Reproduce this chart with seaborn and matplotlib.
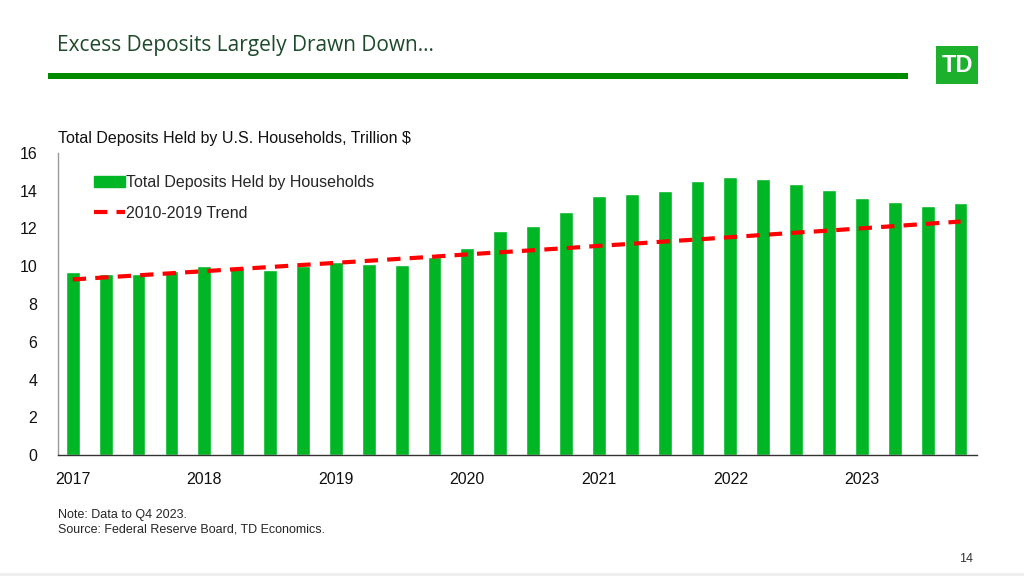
import numpy as np
import pandas as pd
import matplotlib
matplotlib.use("Agg")
import matplotlib.pyplot as plt
import seaborn as sns
from matplotlib.patches import Rectangle, Patch
from matplotlib.lines import Line2D

# quarterly data, 2017 Q1 .. 2023 Q4 (trillion $)
quarters = [f"{y}Q{q}" for y in range(2017, 2024) for q in range(1, 5)]
deposits = [9.70, 9.60, 9.60, 9.75, 10.03, 9.96, 9.82, 10.01,
            10.22, 10.10, 10.08, 10.50, 10.95, 11.87, 12.13, 12.86,
            13.72, 13.81, 13.99, 14.50, 14.75, 14.62, 14.36, 14.02,
            13.62, 13.39, 13.19, 13.35]
trend = [9.30, 9.41, 9.52, 9.63, 9.74, 9.85, 9.96, 10.07,
         10.18, 10.29, 10.40, 10.51, 10.63, 10.74, 10.85, 10.96,
         11.08, 11.19, 11.31, 11.42, 11.54, 11.66, 11.78, 11.89,
         12.01, 12.13, 12.25, 12.37]
year_labels = ["2017", "2018", "2019", "2020", "2021", "2022", "2023"]

df = pd.DataFrame({"quarter": quarters, "deposits": deposits,
                   "trend": trend, "pos": np.arange(len(quarters))})

sns.set_style("white")
plt.rcParams["font.family"] = ["Liberation Sans", "DejaVu Sans"]

bar_green = "#00b624"
trend_red = "#ff0000"

fig = plt.figure(figsize=(10.24, 5.76), dpi=100)
ax = fig.add_axes([58 / 1024, 1 - 455 / 576, (977 - 58) / 1024, (455 - 153) / 576])

sns.barplot(data=df, x="quarter", y="deposits", color=bar_green,
            saturation=1, width=0.42, ax=ax)
sns.lineplot(data=df, x="pos", y="trend", color=trend_red, lw=3,
             ax=ax, dashes=False, linestyle=(0, (3.2, 2.2)))

ax.set_xlim(-0.45, 27.5)
ax.set_ylim(0, 16)
ax.set_yticks(range(0, 17, 2))
ax.set_xticks(range(0, 28, 4))
ax.set_xticklabels(year_labels)
ax.set_xlabel("")
ax.set_ylabel("")
ax.tick_params(axis="both", length=0, labelsize=11.5, colors="#111111")
ax.tick_params(axis="y", pad=15)
ax.tick_params(axis="x", pad=12)
for s in ["top", "right"]:
    ax.spines[s].set_visible(False)
ax.spines["left"].set_color("#999999")
ax.spines["left"].set_linewidth(1)
ax.spines["bottom"].set_color("#333333")
ax.spines["bottom"].set_linewidth(1)

handles = [Patch(color=bar_green),
           Line2D([0], [0], color=trend_red, lw=3, linestyle=(0, (3.2, 2.2)))]
fig.legend(handles, ["Total Deposits Held by Households", "2010-2019 Trend"],
           loc="upper left", bbox_to_anchor=(80 / 1024, 1 - 161 / 576),
           frameon=False, fontsize=11.5, handlelength=1.9, handletextpad=0.05,
           labelspacing=0.95)

# header
fig.text(57 / 1024, 1 - 46 / 576, "Excess Deposits Largely Drawn Down…",
         fontsize=15, color="#1e4a2c", family=["Open Sans", "DejaVu Sans"],
         va="center", ha="left")
fig.patches.append(Rectangle((48 / 1024, 1 - 79 / 576), (908 - 48) / 1024, 6 / 576,
                             transform=fig.transFigure, color="#008a00", lw=0))
fig.patches.append(Rectangle((936 / 1024, 1 - 84 / 576), 42 / 1024, 38 / 576,
                             transform=fig.transFigure, color="#1cb02c", lw=0))
fig.text(957 / 1024, 1 - 65 / 576, "TD", fontsize=17, color="white",
         fontweight="bold", ha="center", va="center")

fig.text(58 / 1024, 1 - 138 / 576, "Total Deposits Held by U.S. Households, Trillion $",
         fontsize=11.5, color="#111111", va="center")
fig.text(58 / 1024, 1 - 515 / 576, "Note: Data to Q4 2023.", fontsize=9, va="center")
fig.text(58 / 1024, 1 - 530 / 576, "Source: Federal Reserve Board, TD Economics.",
         fontsize=9, va="center")
fig.text(966 / 1024, 1 - 559 / 576, "14", fontsize=9, va="center", ha="center",
         color="#333333")
fig.patches.append(Rectangle((0, 0), 1, 3 / 576, transform=fig.transFigure,
                             color="#eeeeee", lw=0))

fig.savefig("out.png", dpi=100)
